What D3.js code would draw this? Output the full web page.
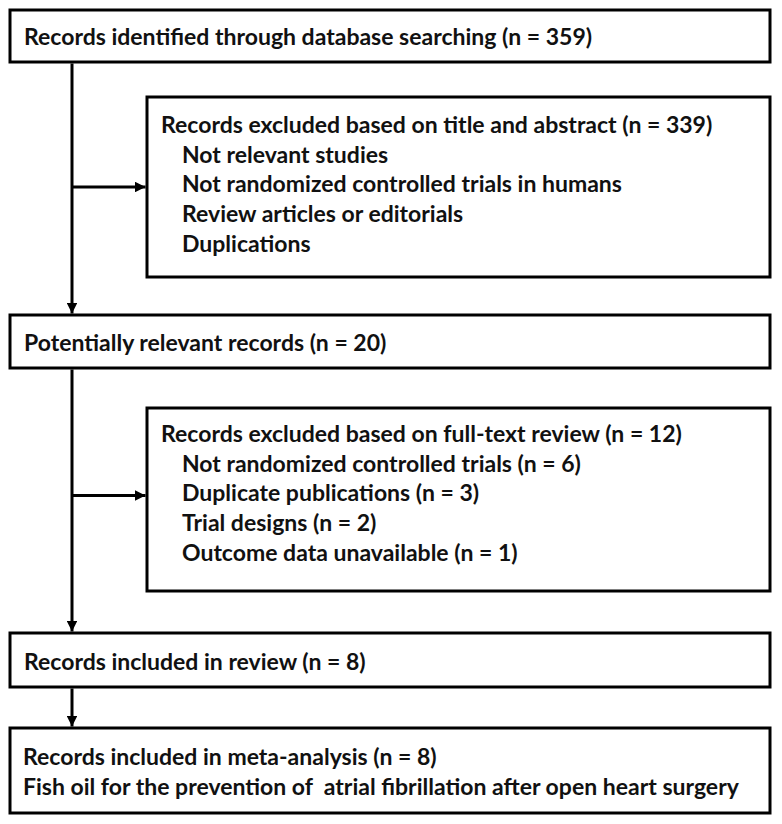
<!DOCTYPE html>
<html>
<head>
<meta charset="utf-8">
<script src="https://cdn.jsdelivr.net/npm/d3@7"></script>
<style>
  html, body { margin: 0; padding: 0; background: #fff; }
  svg { display: block; }
</style>
</head>
<body>
<svg id="chart" width="782" height="824"></svg>
<script>
// ---- data ----
const mainTitles = [
  "Records identified through database searching (n = 359)",
  "Potentially relevant records (n = 20)",
  "Records included in review (n = 8)"
];
const finalLines = [
  "Records included in meta-analysis (n = 8)",
  "Fish oil for the prevention of\u00a0 atrial fibrillation after open heart surgery"
];
const exclusion1Title = "Records excluded based on title and abstract (n = 339)";
const exclusion1Items = [
  "Not relevant studies",
  "Not randomized controlled trials in humans",
  "Review articles or editorials",
  "Duplications"
];
const exclusion2Title = "Records excluded based on full-text review (n = 12)";
const exclusion2Items = [
  "Not randomized controlled trials (n = 6)",
  "Duplicate publications (n = 3)",
  "Trial designs (n = 2)",
  "Outcome data unavailable (n = 1)"
];

// ---- layout ----
const svg = d3.select("#chart");
const font = "Lato, 'Open Sans', sans-serif";
const fs = 23;
const lh = 29.7;

svg.append("defs").append("marker")
  .attr("id", "arrow")
  .attr("viewBox", "0 0 10 10")
  .attr("refX", 10).attr("refY", 5)
  .attr("markerWidth", 3.6).attr("markerHeight", 3.6)
  .attr("markerUnits", "strokeWidth")
  .attr("orient", "auto")
  .append("path").attr("d", "M0,0 L10,5 L0,10 Z").attr("fill", "#000");

const leftX = 10, rightX = 770, innerX = 147, spineX = 72;

const boxes = [
  {y0: 10, y1: 62, x0: leftX, lines: [mainTitles[0]], base: 45, tx: 24, indent: false},
  {y0: 97, y1: 277, x0: innerX, lines: [exclusion1Title, ...exclusion1Items], base: 133, tx: 161, indent: true},
  {y0: 315, y1: 368, x0: leftX, lines: [mainTitles[1]], base: 351, tx: 24, indent: false},
  {y0: 408, y1: 591, x0: innerX, lines: [exclusion2Title, ...exclusion2Items], base: 442, tx: 161, indent: true},
  {y0: 633, y1: 687, x0: leftX, lines: [mainTitles[2]], base: 670, tx: 24, indent: false},
  {y0: 728, y1: 813, x0: leftX, lines: finalLines, base: 765, tx: 23, indent: false}
];

const g = svg.append("g");
boxes.forEach(b => {
  g.append("rect")
    .attr("x", b.x0).attr("y", b.y0)
    .attr("width", rightX - b.x0).attr("height", b.y1 - b.y0)
    .attr("fill", "#fff").attr("stroke", "#000").attr("stroke-width", 3);
  const t = g.append("text")
    .attr("font-family", font).attr("font-weight", 700)
    .attr("font-size", fs).attr("fill", "#111");
  b.lines.forEach((line, i) => {
    t.append("tspan")
      .attr("x", (b.indent && i > 0) ? b.tx + 21 : b.tx)
      .attr("y", b.base + i * (b.lines.length > 2 ? lh : 30))
      .text(line);
  });
});

// connectors
const conn = svg.append("g").attr("stroke", "#000").attr("stroke-width", 3).attr("fill", "none");
function arrow(x1, y1, x2, y2) {
  conn.append("line").attr("x1", x1).attr("y1", y1).attr("x2", x2).attr("y2", y2)
    .attr("marker-end", "url(#arrow)");
}
arrow(spineX, boxes[0].y1 + 1.5, spineX, boxes[2].y0 - 1.5);
arrow(spineX, (boxes[1].y0 + boxes[1].y1) / 2, innerX - 1.5, (boxes[1].y0 + boxes[1].y1) / 2);
arrow(spineX, boxes[2].y1 + 1.5, spineX, boxes[4].y0 - 1.5);
arrow(spineX, (boxes[3].y0 + boxes[3].y1) / 2 - 4, innerX - 1.5, (boxes[3].y0 + boxes[3].y1) / 2 - 4);
arrow(spineX, boxes[4].y1 + 1.5, spineX, boxes[5].y0 - 1.5);
</script>
</body>
</html>
